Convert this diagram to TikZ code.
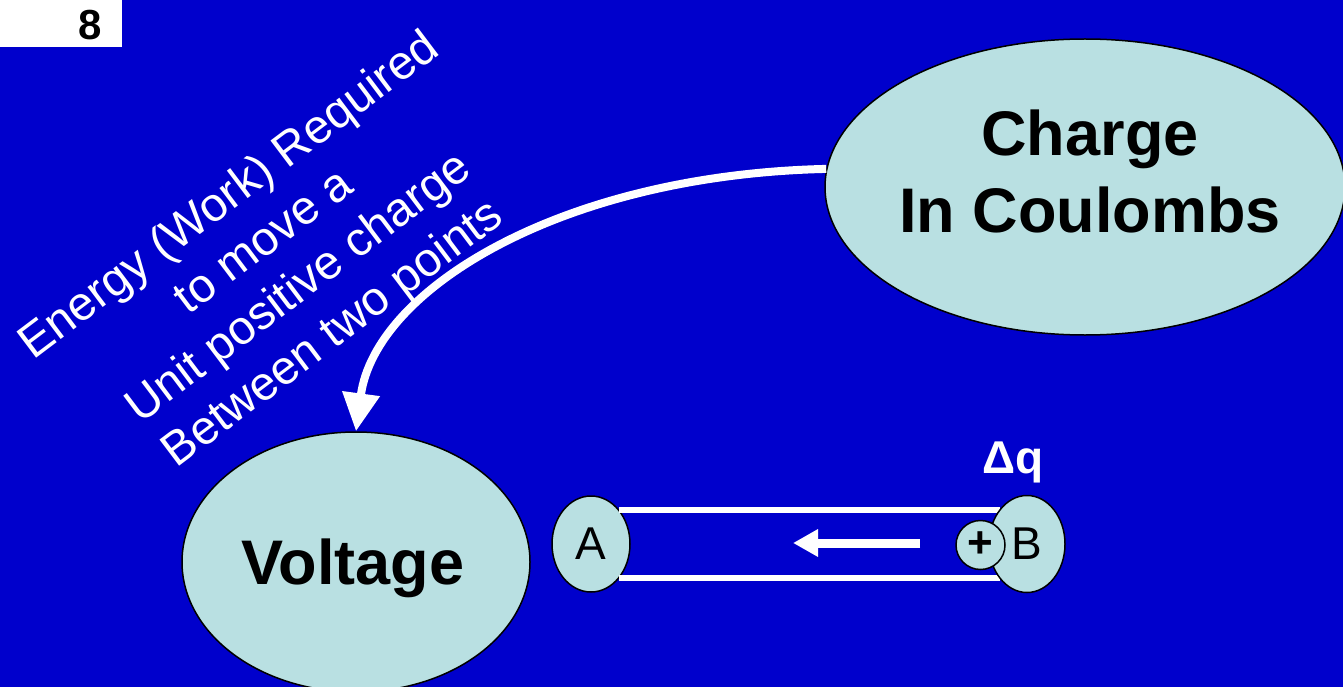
\documentclass[tikz,border=0pt]{standalone}
\usepackage{fontspec}
\setmainfont{Liberation Sans}
\usetikzlibrary{shapes.geometric,arrows.meta}
\definecolor{bg}{RGB}{0,0,204}
\definecolor{cyanfill}{RGB}{185,224,226}
\begin{document}
\begin{tikzpicture}[x=1pt,y=-1pt,
  blob/.style={ellipse, draw=black, line width=1.5pt, fill=cyanfill, inner sep=0pt},
  bigtext/.style={font=\fontsize{63}{77}\selectfont\bfseries, align=center, text=black, inner sep=0pt},
  whitearrow/.style={draw=white, line width=8pt},
  rail/.style={draw=white, line width=6pt},
  lbl/.style={font=\fontsize{46}{50}\selectfont, inner sep=0pt}]
\useasboundingbox (0,0) rectangle (1343,687);
\begin{scope}
\clip (0,0) rectangle (1343,687);
\fill[bg] (0,0) rectangle (1343,687);
\fill[white] (0,0) rectangle (122,47);
\node[font=\fontsize{42}{46}\selectfont\bfseries, inner sep=0pt] (num) at (90,25) {8};
% big ellipses
\node[blob, minimum width=520pt, minimum height=296pt] (charge) at (1085,187) {};
\node[bigtext] (chargetext) at (1090,171) {Charge\\In Coulombs};
\node[blob, minimum width=348pt, minimum height=260pt] (voltage) at (356,562) {};
\node[bigtext, anchor=base] (voltagetext) at (353,584) {Voltage};
% rotated text
\node[font=\fontsize{47.5}{57.5}\selectfont, text=white, align=center, rotate=37, inner sep=0pt] (def) at (282,266)
  {Energy (Work) Required\\to move a\\Unit positive charge\\Between two points};
% curved arrow
\draw[whitearrow, -{Triangle[length=38pt,width=36pt]}] (charge.176) .. controls (560,175) and (375,290) .. (voltage.north);
% A - B conductor
\node[blob, lbl, minimum width=78pt, minimum height=96pt] (A) at (591,544) {A};
\coordinate (r1s) at (619,510);
\coordinate (r1e) at (1000,510);
\coordinate (r2s) at (619,578);
\coordinate (r2e) at (1000,578);
\draw[rail] (r1s) -- (r1e);
\draw[rail] (r2s) -- (r2e);
\node[blob, lbl, minimum width=76pt, minimum height=97pt] (B) at (1027,544) {B};
\node[circle, draw=black, line width=1.5pt, fill=cyanfill, minimum size=49pt, inner sep=0pt, font=\fontsize{44}{48}\selectfont\bfseries] (plus) at (980.5,545) {+};
\coordinate (fa) at (920,543);
\coordinate (fb) at (793,543);
\draw[whitearrow, line width=9pt, -{Triangle[length=25pt,width=26pt]}] (fa) -- (fb);
\node[font=\fontsize{46}{50}\selectfont\bfseries, text=white, anchor=base, inner sep=0pt] (dq) at (1013,473) {Δq};
\end{scope}
\end{tikzpicture}
\end{document}
